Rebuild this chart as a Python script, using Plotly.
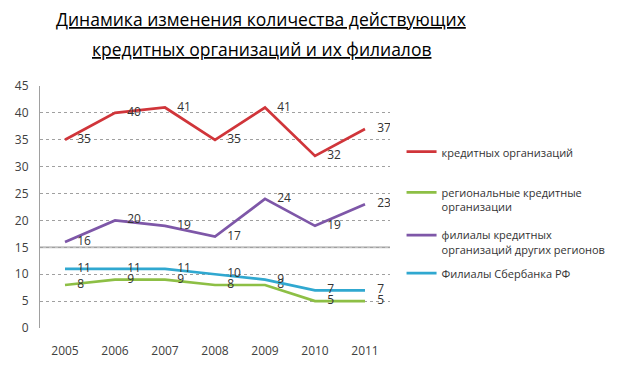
import plotly.graph_objects as go

years = ["2005", "2006", "2007", "2008", "2009", "2010", "2011"]
credit_orgs = [35, 40, 41, 35, 41, 32, 37]
regional_orgs = [8, 9, 9, 8, 8, 5, 5]
branches_other = [16, 20, 19, 17, 24, 19, 23]
sberbank = [11, 11, 11, 10, 9, 7, 7]

series = [
    ("кредитных организаций", credit_orgs, "#D0353A", "legend", 0.785),
    ("региональные кредитные<br>организации", regional_orgs, "#8DBF45", "legend2", 0.617),
    ("филиалы кредитных<br>организаций других регионов", branches_other, "#7E57A8", "legend3", 0.44),
    ("Филиалы Сбербанка РФ", sberbank, "#30A8D0", "legend4", 0.283),
]

font_family = "Open Sans, Noto Sans, sans-serif"
fig = go.Figure()
for name, vals, color, lg, _ in series:
    fig.add_trace(go.Scatter(
        x=years, y=vals, name=name, mode="lines+markers+text",
        line=dict(color=color, width=2.7),
        marker=dict(size=18, color="rgba(0,0,0,0)"),
        text=[str(v) for v in vals], textposition="middle right",
        textfont=dict(size=12, color="#333333", family=font_family),
        legend=lg,
    ))

layout_legends = {}
for name, vals, color, lg, ypos in series:
    layout_legends[lg] = dict(
        x=1.033, y=ypos, xanchor="left", yanchor="top",
        font=dict(size=11, color="#333333", family=font_family),
        bgcolor="rgba(0,0,0,0)", valign="top", itemwidth=30,
    )

fig.add_shape(type="line", xref="paper", x0=0, x1=1, yref="y", y0=15, y1=15,
              line=dict(color="#C0C0C0", width=2), layer="below")

title_font = dict(size=17.5, color="#000000", family=font_family, lineposition="under")
title_x = (261 - 40) / 350
fig.add_annotation(text="Динамика изменения количества действующих", xref="paper", yref="paper",
                   x=title_x, y=(328 - 19) / 242, showarrow=False,
                   xanchor="center", yanchor="middle", font=title_font)
fig.add_annotation(text="кредитных организаций и их филиалов", xref="paper", yref="paper",
                   x=title_x, y=(328 - 49) / 242, showarrow=False,
                   xanchor="center", yanchor="middle", font=title_font)

fig.update_layout(
    width=614, height=364,
    margin=dict(l=32, r=232, t=78, b=44, autoexpand=False),
    paper_bgcolor="white", plot_bgcolor="white",
    showlegend=True,
    xaxis=dict(
        type="category", range=[-0.5, 6.5], showgrid=False,
        showline=False, zeroline=False, automargin=False,
        ticks="outside", ticklen=12, tickcolor="rgba(0,0,0,0)",
        tickfont=dict(size=12, color="#404040", family=font_family),
    ),
    yaxis=dict(
        range=[0, 45], dtick=5, showgrid=True,
        gridcolor="#A0A0A0", griddash="dot", gridwidth=1,
        showline=True, linecolor="#A0A0A0", linewidth=1,
        zeroline=False, automargin=False,
        ticks="outside", ticklen=8, tickcolor="rgba(0,0,0,0)",
        tickfont=dict(size=12, color="#404040", family=font_family),
    ),
    **layout_legends,
)

fig.write_html("out.html")
